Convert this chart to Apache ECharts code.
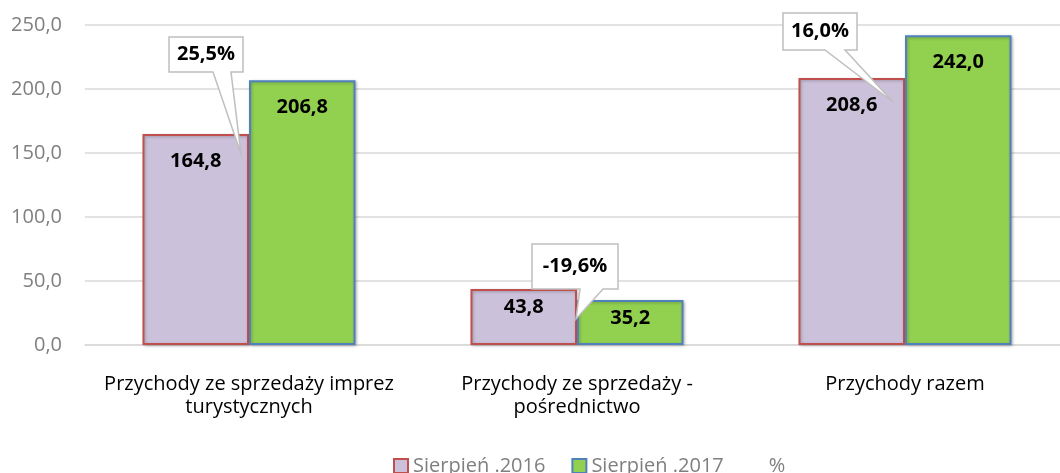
<!DOCTYPE html>
<html>
<head>
<meta charset="utf-8">
<script src="https://cdn.jsdelivr.net/npm/echarts@6/dist/echarts.min.js"></script>
<style>
  html, body { margin: 0; padding: 0; background: #fff; }
  #chart { width: 1060px; height: 473px; }
</style>
</head>
<body>
<div id="chart"></div>
<script>
// dane z wykresu
const categories = [
  'Przychody ze sprzedaży imprez\nturystycznych',
  'Przychody ze sprzedaży -\npośrednictwo',
  'Przychody razem'
];
const seriesNames = ['Sierpień .2016', 'Sierpień .2017', '%'];
const values2016 = [164.8, 43.8, 208.6];
const values2017 = [206.8, 35.2, 242.0];
const changePct = [25.5, -19.6, 16.0];
const yTicks = { min: 0, max: 250, interval: 50 };

// polozenie dymkow wzgledem wierzcholka slupka 2016 (tylko uklad)
const calloutLayout = [
  { dx: -8, dy: 20, left: -72, top: -117, w: 74, h: 35, b1: -28, b2: -10 },
  { dx: -1, dy: 30, left: -44, top: -75, w: 86, h: 45, b1: 4, b2: 27 },
  { dx: -12, dy: 24, left: -110, top: -89, w: 74, h: 37, b1: -68, b2: -48 }
];

const FONT = '"Open Sans", "Noto Sans", sans-serif';
const fmt = v => v.toFixed(1).replace('.', ',');

const chart = echarts.init(document.getElementById('chart'));

const barData = vals => vals.map(v => ({
  value: v,
  label: { distance: v > 100 ? 17 : 8 }
}));

const barLabel = {
  show: true,
  position: 'insideTop',
  color: '#000',
  fontFamily: FONT,
  fontWeight: 'bold',
  fontSize: 20,
  formatter: p => fmt(p.value)
};

const option = {
  animation: false,
  textStyle: { fontFamily: FONT },
  grid: { left: 85, top: 25, width: 984, height: 320, outerBoundsMode: 'none', containLabel: false },
  legend: {
    left: 388,
    top: 451,
    itemWidth: 14,
    itemHeight: 14,
    itemGap: 26,
    textStyle: { color: '#7f7f7f', fontSize: 20, fontFamily: FONT },
    data: [
      { name: seriesNames[0], icon: 'rect' },
      { name: seriesNames[1], icon: 'rect' },
      { name: seriesNames[2], icon: 'rect', itemStyle: { opacity: 0 } }
    ]
  },
  xAxis: {
    type: 'category',
    data: categories,
    axisTick: { show: false },
    axisLine: { lineStyle: { color: '#d9d9d9', width: 1.5 } },
    axisLabel: {
      interval: 0,
      color: '#000',
      fontSize: 20,
      lineHeight: 23,
      margin: 28,
      fontFamily: FONT
    }
  },
  yAxis: {
    type: 'value',
    min: yTicks.min,
    max: yTicks.max,
    interval: yTicks.interval,
    axisLine: { show: false },
    axisTick: { show: false },
    splitLine: { lineStyle: { color: '#d9d9d9', width: 1.5 } },
    axisLabel: {
      color: '#7f7f7f',
      fontSize: 20,
      margin: 23,
      fontFamily: FONT,
      formatter: v => fmt(v)
    }
  },
  series: [
    {
      name: seriesNames[0],
      type: 'bar',
      barWidth: 106.5,
      barGap: '0%',
      data: barData(values2016),
      itemStyle: {
        color: '#ccc1da',
        borderColor: '#c0504d',
        borderWidth: 2,
        shadowColor: 'rgba(0,0,0,0.25)',
        shadowBlur: 3,
        shadowOffsetX: 1,
        shadowOffsetY: 1
      },
      label: barLabel
    },
    {
      name: seriesNames[1],
      type: 'bar',
      barWidth: 106.5,
      data: barData(values2017),
      itemStyle: {
        color: '#92d050',
        borderColor: '#4f81bd',
        borderWidth: 2,
        shadowColor: 'rgba(0,0,0,0.25)',
        shadowBlur: 3,
        shadowOffsetX: 1,
        shadowOffsetY: 1
      },
      label: barLabel
    },
    {
      name: seriesNames[2],
      type: 'custom',
      z: 10,
      data: categories.map((c, i) => [i, values2016[i], changePct[i]]),
      encode: { x: 0, y: 1 },
      renderItem: (params, api) => {
        const i = api.value(0);
        const L = calloutLayout[i];
        const p = api.coord([i, api.value(1)]);
        const tx = p[0] + L.dx, ty = p[1] + L.dy;
        const x0 = tx + L.left, y0 = ty + L.top;
        const x1 = x0 + L.w, y1 = y0 + L.h;
        return {
          type: 'group',
          children: [
            {
              type: 'polygon',
              shape: {
                points: [
                  [x0, y0], [x1, y0], [x1, y1],
                  [tx + L.b2, y1], [tx, ty], [tx + L.b1, y1],
                  [x0, y1]
                ]
              },
              style: { fill: '#fff', stroke: '#bfbfbf', lineWidth: 1.5 }
            },
            {
              type: 'text',
              style: {
                x: (x0 + x1) / 2,
                y: (y0 + y1) / 2,
                text: fmt(api.value(2)) + '%',
                fill: '#000',
                fontFamily: FONT,
                fontWeight: 'bold',
                fontSize: 20,
                align: 'center',
                verticalAlign: 'middle'
              }
            }
          ]
        };
      }
    }
  ]
};

chart.setOption(option);
</script>
</body>
</html>
